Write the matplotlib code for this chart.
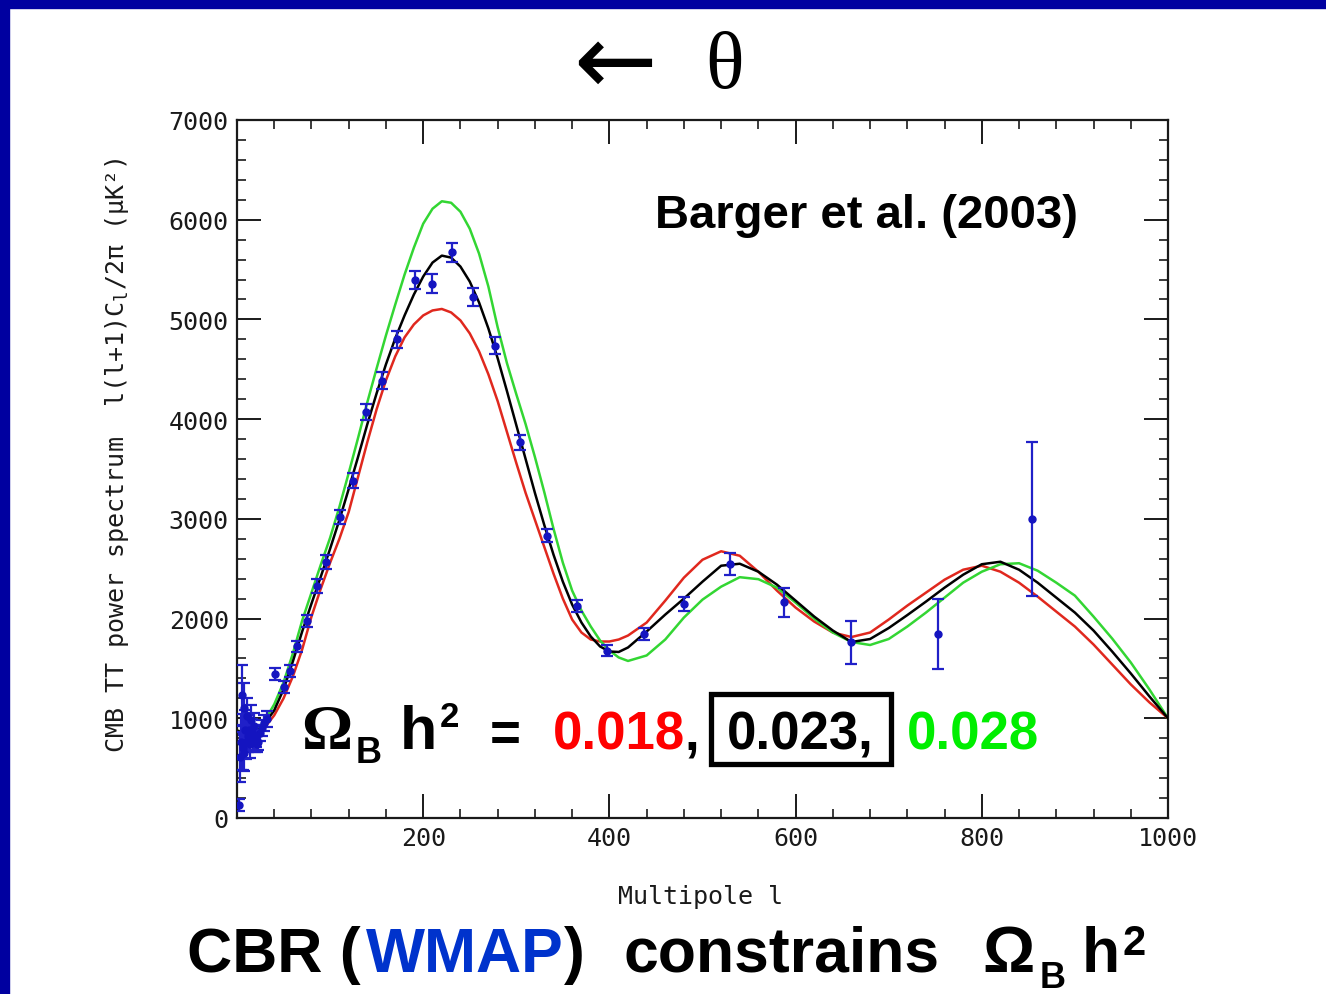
import matplotlib
matplotlib.use('Agg')
from matplotlib import pyplot as plt
from matplotlib.patches import Rectangle
from matplotlib.ticker import MultipleLocator

plt.rcParams['mathtext.fontset'] = 'custom'
plt.rcParams['mathtext.rm'] = 'DejaVu Sans Mono'
plt.rcParams['mathtext.it'] = 'DejaVu Sans Mono'

# model curves (multipole l, l(l+1)C_l/2pi in uK^2)
ell_model = [2, 10, 20, 30, 40, 50, 60, 70, 80, 90, 100, 110, 120, 130, 140, 150,
             160, 170, 180, 190, 200, 210, 220, 230, 240, 250, 260, 270, 280, 290,
             300, 310, 320, 330, 340, 350, 360, 370, 380, 390, 400, 410, 420, 440,
             460, 480, 500, 520, 540, 560, 580, 600, 620, 640, 660, 680, 700, 720,
             740, 760, 780, 800, 820, 840, 860, 880, 900, 920, 940, 960, 980, 1000]
dl_018 = [870, 800, 830, 910, 1030, 1200, 1420, 1690, 2020, 2300, 2560, 2800, 3070,
          3420, 3770, 4100, 4390, 4630, 4820, 4950, 5040, 5090, 5105, 5070, 4990,
          4860, 4680, 4450, 4180, 3870, 3560, 3260, 2990, 2720, 2450, 2200, 1990,
          1860, 1790, 1770, 1770, 1790, 1830, 1960, 2180, 2410, 2590, 2675, 2630,
          2470, 2280, 2110, 1970, 1860, 1815, 1860, 1990, 2130, 2260, 2390, 2490,
          2530, 2470, 2360, 2220, 2070, 1920, 1740, 1540, 1340, 1160, 1000]
dl_023 = [870, 800, 850, 950, 1080, 1290, 1570, 1870, 2150, 2420, 2700, 2990, 3300,
          3620, 3950, 4260, 4550, 4810, 5040, 5250, 5430, 5570, 5640, 5620, 5530,
          5380, 5170, 4910, 4610, 4280, 3940, 3600, 3260, 2940, 2640, 2370, 2140,
          1960, 1820, 1720, 1670, 1665, 1710, 1870, 2040, 2200, 2370, 2530, 2550,
          2470, 2340, 2180, 2020, 1880, 1765, 1795, 1905, 2035, 2170, 2310, 2440,
          2545, 2570, 2490, 2360, 2210, 2060, 1880, 1670, 1450, 1220, 1000]
dl_028 = [870, 810, 870, 980, 1140, 1360, 1650, 1980, 2260, 2540, 2810, 3120, 3460,
          3810, 4170, 4510, 4840, 5150, 5450, 5720, 5960, 6110, 6185, 6170, 6080,
          5910, 5660, 5330, 4920, 4560, 4250, 3950, 3620, 3270, 2900, 2560, 2280,
          2080, 1920, 1780, 1680, 1610, 1575, 1630, 1790, 2010, 2190, 2320, 2415,
          2395, 2310, 2160, 2000, 1860, 1765, 1735, 1795, 1920, 2060, 2210, 2360,
          2470, 2545, 2555, 2480, 2360, 2230, 2020, 1800, 1560, 1290, 1000]

# WMAP data points
ell_data = [2, 3, 4, 5, 6, 7, 8, 9, 10, 11, 12, 13, 14, 15, 16, 17, 18, 19, 20,
            21, 23, 25, 27, 29, 32, 41, 50, 57, 64, 75, 86, 96, 111, 125, 139, 156,
            172, 191, 209, 231, 254, 277, 304, 333, 365, 397, 437, 480, 530, 588,
            660, 753, 854]
dl_data = [130, 610, 760, 1230, 700, 1100, 650, 880, 760, 1020, 820, 880, 740, 980,
           860, 800, 920, 770, 820, 742, 760, 850, 900, 950, 993, 1444, 1311, 1470,
           1720, 1979, 2330, 2565, 3016, 3383, 4069, 4386, 4800, 5400, 5356, 5674,
           5223, 4737, 3768, 2832, 2130, 1678, 1846, 2146, 2548, 2163, 1762, 1846,
           3000]
err_data = [60, 250, 280, 300, 220, 250, 180, 200, 170, 180, 160, 150, 140, 150,
            130, 120, 130, 110, 110, 80, 80, 80, 80, 80, 80, 60, 60, 60, 60, 60, 70,
            70, 70, 75, 80, 85, 85, 90, 95, 95, 90, 85, 75, 65, 60, 55, 60, 75, 110,
            145, 215, 355, 770]

x_ticks = [0, 200, 400, 600, 800, 1000]
x_tick_labels = ['', '200', '400', '600', '800', '1000']
y_ticks = [0, 1000, 2000, 3000, 4000, 5000, 6000, 7000]

W, H = 1326, 995


def fx(x):
    return x / W


def fy(y):
    return 1 - y / H


fig = plt.figure(figsize=(W / 100, H / 100), dpi=100)
fig.patch.set_facecolor('white')

# blue slide frame (top and left)
fig.patches.append(Rectangle((0, fy(9)), 1, 9 / H, transform=fig.transFigure,
                             color='#0000a0', zorder=5))
fig.patches.append(Rectangle((0, 0), 9 / W, 1, transform=fig.transFigure,
                             color='#0000a0', zorder=5))

ax = fig.add_axes([fx(237), fy(819), (1168 - 237) / W, (819 - 121) / H])
ax.plot(ell_model, dl_018, color='#e0281e', linewidth=1.8, zorder=2)
ax.plot(ell_model, dl_028, color='#33d633', linewidth=1.8, zorder=2)
ax.plot(ell_model, dl_023, color='black', linewidth=1.8, zorder=3)
ax.errorbar(ell_data, dl_data, yerr=err_data, fmt='o', markersize=5,
            color='#1414c0', ecolor='#2020c8', elinewidth=1.6, capsize=4.5,
            capthick=1.6, zorder=4)

ax.set_xlim(0, 1000)
ax.set_ylim(0, 7000)
ax.set_xticks(x_ticks)
ax.set_xticklabels(x_tick_labels)
ax.set_yticks(y_ticks)
ax.xaxis.set_minor_locator(MultipleLocator(40))
ax.yaxis.set_minor_locator(MultipleLocator(200))
ax.tick_params(which='both', direction='in', top=True, right=True,
               colors='#1a1a1a')
ax.tick_params(which='major', length=17, width=1.4, pad=6, labelsize=18)
ax.tick_params(which='minor', length=6.5, width=1.2)
for lab in ax.get_xticklabels() + ax.get_yticklabels():
    lab.set_fontfamily('DejaVu Sans Mono')
for sp in ax.spines.values():
    sp.set_linewidth(1.6)
    sp.set_color('#1a1a1a')

mono = 'DejaVu Sans Mono'
fig.text(fx(117), fy(455), 'CMB TT power spectrum  l(l+1)C$_\\mathrm{l}$/2π (μK²)',
         rotation=90, ha='center', va='center', fontsize=18, family=mono,
         color='#1a1a1a')
fig.text(fx(700), fy(897), 'Multipole l', ha='center', va='center',
         fontsize=18, family=mono, color='#1a1a1a')

sans = 'Liberation Sans'
serif = ['Liberation Serif', 'DejaVu Serif']

# top arrow and theta
fig.text(fx(615), fy(66), '←', ha='center', va='center', fontsize=72,
         family='DejaVu Sans', color='black')
fig.text(fx(725), fy(88), 'θ', ha='center', va='baseline', fontsize=58,
         family=serif, color='black')

fig.text(fx(655), fy(228), 'Barger et al. (2003)', ha='left', va='baseline',
         fontsize=34, fontweight='bold', family=sans, color='black')

# Omega_B h^2 = 0.018, 0.023, 0.028
fig.text(fx(301), fy(749), 'Ω', ha='left', va='baseline', fontsize=46,
         fontweight='bold', family=serif, color='black')
fig.text(fx(356), fy(763), 'B', ha='left', va='baseline', fontsize=26,
         fontweight='bold', family=sans, color='black')
fig.text(fx(400), fy(749), 'h', ha='left', va='baseline', fontsize=44,
         fontweight='bold', family=sans, color='black')
fig.text(fx(440), fy(727), '2', ha='left', va='baseline', fontsize=25,
         fontweight='bold', family=sans, color='black')
fig.text(fx(490), fy(750), '=', ha='left', va='baseline', fontsize=38,
         fontweight='bold', family=sans, color='black')
fig.text(fx(553), fy(750), '0.018', ha='left', va='baseline', fontsize=38,
         fontweight='bold', family=sans, color='#ff0000')
fig.text(fx(684), fy(750), ',', ha='left', va='baseline', fontsize=38,
         fontweight='bold', family=sans, color='black')
fig.patches.append(Rectangle((fx(711), fy(765)), (891 - 711) / W, 70 / H,
                             transform=fig.transFigure, fill=False,
                             edgecolor='black', linewidth=3.8, zorder=5))
fig.text(fx(727), fy(750), '0.023,', ha='left', va='baseline', fontsize=38,
         fontweight='bold', family=sans, color='black')
fig.text(fx(907), fy(750), '0.028', ha='left', va='baseline', fontsize=38,
         fontweight='bold', family=sans, color='#00ee00')

# bottom title
fig.text(fx(187), fy(972), 'CBR (', ha='left', va='baseline', fontsize=45,
         fontweight='bold', family=sans, color='black')
fig.text(fx(366), fy(972), 'WMAP', ha='left', va='baseline', fontsize=45,
         fontweight='bold', family=sans, color='#0033cc')
fig.text(fx(564), fy(972), ')', ha='left', va='baseline', fontsize=45,
         fontweight='bold', family=sans, color='black')
fig.text(fx(623), fy(972), 'constrains', ha='left', va='baseline', fontsize=45,
         fontweight='bold', family=sans, color='black')
fig.text(fx(982), fy(972), 'Ω', ha='left', va='baseline', fontsize=47,
         fontweight='bold', family=sans, color='black')
fig.text(fx(1040), fy(988), 'B', ha='left', va='baseline', fontsize=26,
         fontweight='bold', family=sans, color='black')
fig.text(fx(1082), fy(972), 'h', ha='left', va='baseline', fontsize=45,
         fontweight='bold', family=sans, color='black')
fig.text(fx(1122), fy(955), '2', ha='left', va='baseline', fontsize=30,
         fontweight='bold', family=sans, color='black')

fig.savefig('out.png', dpi=100)
